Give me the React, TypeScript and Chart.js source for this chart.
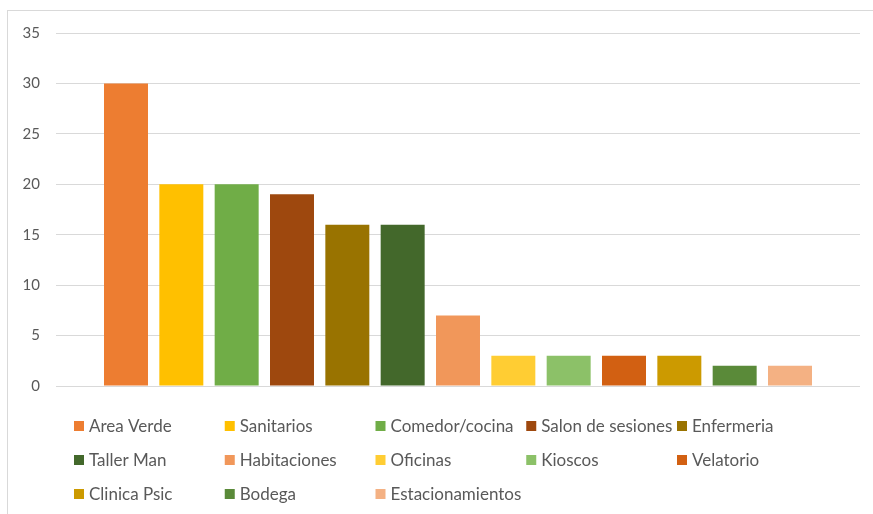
import React, { useEffect, useRef } from "react";
import { Chart, registerables } from "chart.js";

Chart.register(...registerables);

const categories = [
  "Area Verde",
  "Sanitarios",
  "Comedor/cocina",
  "Salon de sesiones",
  "Enfermeria",
  "Taller Man",
  "Habitaciones",
  "Oficinas",
  "Kioscos",
  "Velatorio",
  "Clinica Psic",
  "Bodega",
  "Estacionamientos",
];
const values = [30, 20, 20, 19, 16, 16, 7, 3, 3, 3, 3, 2, 2];
const colors = [
  "#ED7D31",
  "#FFC000",
  "#70AD47",
  "#9E480E",
  "#997300",
  "#43682B",
  "#F1975A",
  "#FFCD33",
  "#8CC168",
  "#D26012",
  "#CC9A00",
  "#5A8A39",
  "#F4B183",
];
const yTicks = { min: 0, max: 35, step: 5 };

const FONT = "Lato, 'Liberation Sans', sans-serif";
const TEXT = "#595959";

const gridLegend = {
  id: "gridLegend",
  afterDraw(chart: any) {
    const ctx = chart.ctx;
    const ds = chart.data.datasets;
    const cols = 5;
    const x0 = 66;
    const colW = 150.75;
    const y0 = 415;
    const rowH = 34;
    const box = 10;
    ctx.save();
    ctx.font = `17px ${FONT}`;
    ctx.textBaseline = "middle";
    ctx.textAlign = "left";
    ds.forEach((d: any, i: number) => {
      const c = i % cols;
      const r = Math.floor(i / cols);
      const x = x0 + c * colW;
      const y = y0 + r * rowH;
      ctx.fillStyle = d.backgroundColor;
      ctx.fillRect(x, y - box / 2, box, box);
      ctx.fillStyle = TEXT;
      ctx.fillText(d.label, x + box + 5, y + 1);
    });
    ctx.restore();
  },
};

export default function App() {
  const ref = useRef<HTMLCanvasElement>(null);
  useEffect(() => {
    if (!ref.current) return;
    const chart = new Chart(ref.current, {
      type: "bar",
      data: {
        labels: [""],
        datasets: categories.map((c, i) => ({
          label: c,
          data: [values[i]],
          backgroundColor: colors[i],
          borderWidth: 0,
          categoryPercentage: 0.8947,
          barPercentage: 0.795,
        })),
      },
      options: {
        animation: false,
        responsive: false,
        maintainAspectRatio: false,
        layout: { padding: { top: 22, right: 13, bottom: 128, left: 0 } },
        plugins: {
          legend: { display: false },
          tooltip: { enabled: false },
        },
        scales: {
          x: {
            display: false,
            grid: { display: false },
          },
          y: {
            min: yTicks.min,
            max: yTicks.max,
            ticks: {
              stepSize: yTicks.step,
              color: TEXT,
              font: { family: FONT, size: 15 },
              padding: 16,
            },
            grid: { color: "#d9d9d9", lineWidth: 1, drawTicks: false },
            border: { display: false },
            afterFit(scale: any) {
              scale.width = 48;
              scale.paddingTop = 0;
              scale.paddingBottom = 0;
            },
          },
        },
      },
      plugins: [gridLegend],
    });
    return () => chart.destroy();
  }, []);
  return (
    <div
      style={{
        position: "absolute",
        left: 7,
        top: 10,
        width: 880,
        height: 520,
        border: "1px solid #d9d9d9",
        background: "#fff",
      }}
    >
      <canvas ref={ref} width={865} height={503} style={{ display: "block" }} />
    </div>
  );
}
